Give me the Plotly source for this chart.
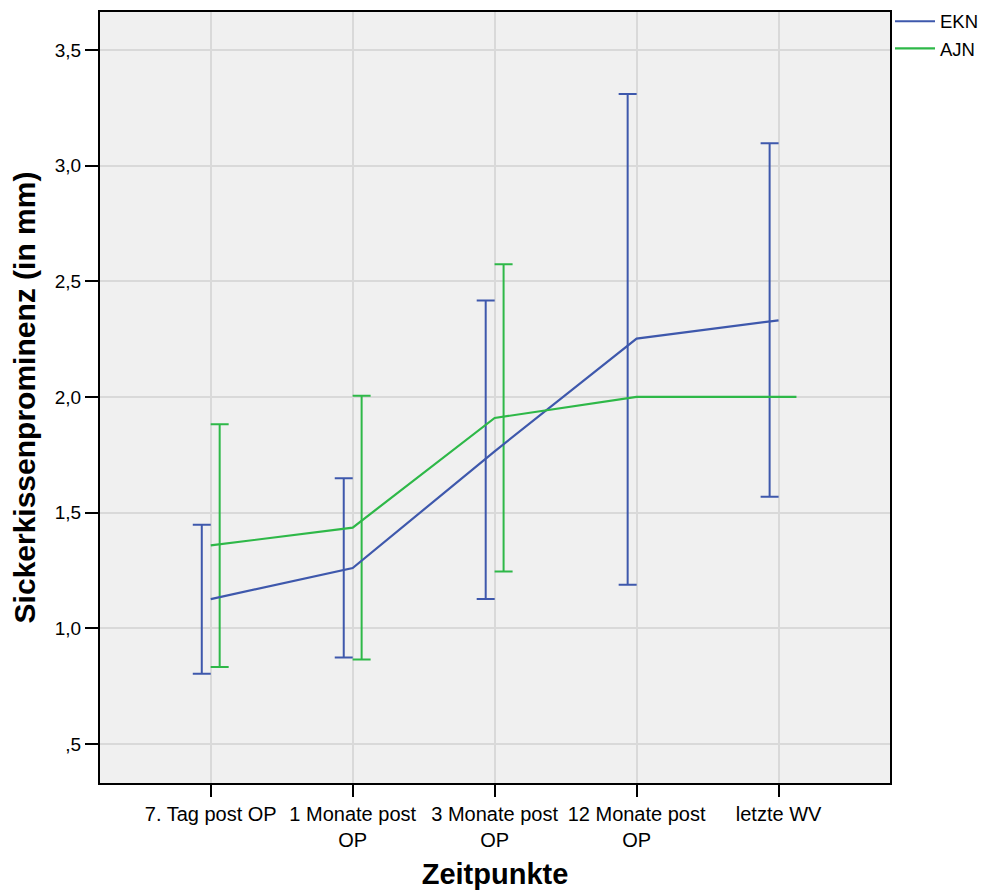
import plotly.graph_objects as go

categories = ["7. Tag post OP", "1 Monate post<br>OP", "3 Monate post<br>OP", "12 Monate post<br>OP", "letzte WV"]
ekn_mean = [1.126, 1.260, 1.765, 2.252, 2.331]
ekn_upper = [1.447, 1.648, 2.417, 3.309, 3.097]
ekn_lower = [0.803, 0.874, 1.126, 1.188, 1.568]
ajn_mean = [1.358, 1.435, 1.909, 2.000, 2.000]
ajn_upper = [1.882, 2.005, 2.573, None, None]
ajn_lower = [0.833, 0.865, 1.245, None, None]
yticks = [0.5, 1.0, 1.5, 2.0, 2.5, 3.0, 3.5]
ytext = [",5", "1,0", "1,5", "2,0", "2,5", "3,0", "3,5"]

BLUE = "#3E58AC"
GREEN = "#2EB848"
OFF = 0.063
FONT = "Liberation Sans, Arial"

idx = list(range(len(categories)))

fig = go.Figure()

def err_trace(mean, up, lo, color, off):
    xs, ys, ep, em = [], [], [], []
    for i, m, u, l in zip(idx, mean, up, lo):
        if u is None:
            continue
        xs.append(i + off)
        ys.append(m)
        ep.append(u - m)
        em.append(m - l)
    return go.Scatter(x=xs, y=ys, mode="markers", marker=dict(size=1, opacity=0),
                      error_y=dict(type="data", symmetric=False, array=ep, arrayminus=em,
                                   color=color, thickness=2, width=9),
                      showlegend=False, hoverinfo="skip")

fig.add_trace(err_trace(ekn_mean, ekn_upper, ekn_lower, BLUE, -OFF))
fig.add_trace(err_trace(ajn_mean, ajn_upper, ajn_lower, GREEN, OFF))

fig.add_trace(go.Scatter(x=idx, y=ekn_mean, mode="lines", name="EKN",
                         line=dict(color=BLUE, width=2.2)))
fig.add_trace(go.Scatter(x=idx + [idx[-1] + 2 * OFF], y=ajn_mean + [ajn_mean[-1]], mode="lines", name="AJN",
                         line=dict(color=GREEN, width=2.2)))

fig.update_layout(
    width=981, height=892,
    margin=dict(l=100, r=91, t=12, b=109, autoexpand=False),
    paper_bgcolor="white", plot_bgcolor="#F0F0F0",
    font=dict(family=FONT, color="black", size=18),
    legend=dict(x=1.0, y=1.012, xanchor="left", yanchor="top", bgcolor="rgba(0,0,0,0)",
                font=dict(family=FONT, size=18.5), itemwidth=40),
    showlegend=True,
)
fig.update_xaxes(
    range=[-0.78, 4.785], tickmode="array", tickvals=idx, ticktext=categories,
    showgrid=True, gridcolor="#D9D9D9", gridwidth=1.5, zeroline=False,
    showline=True, mirror=True, linecolor="black", linewidth=2,
    ticks="outside", ticklen=12, tickwidth=2, tickcolor="black",
    tickfont=dict(family=FONT, size=20),
    title=dict(text="<b>Zeitpunkte</b>", font=dict(family=FONT, size=29), standoff=14),
)
fig.update_yaxes(
    range=[0.331, 3.664], tickmode="array", tickvals=yticks, ticktext=ytext,
    showgrid=True, gridcolor="#D9D9D9", gridwidth=1.5, zeroline=False,
    showline=True, mirror=True, linecolor="black", linewidth=2,
    ticks="outside", ticklen=13, tickwidth=2, tickcolor="black",
    tickfont=dict(family=FONT, size=19),
    title=dict(text="<b>Sickerkissenprominenz (in mm)</b>", font=dict(family=FONT, size=30), standoff=10),
)

fig.write_html("out.html")
